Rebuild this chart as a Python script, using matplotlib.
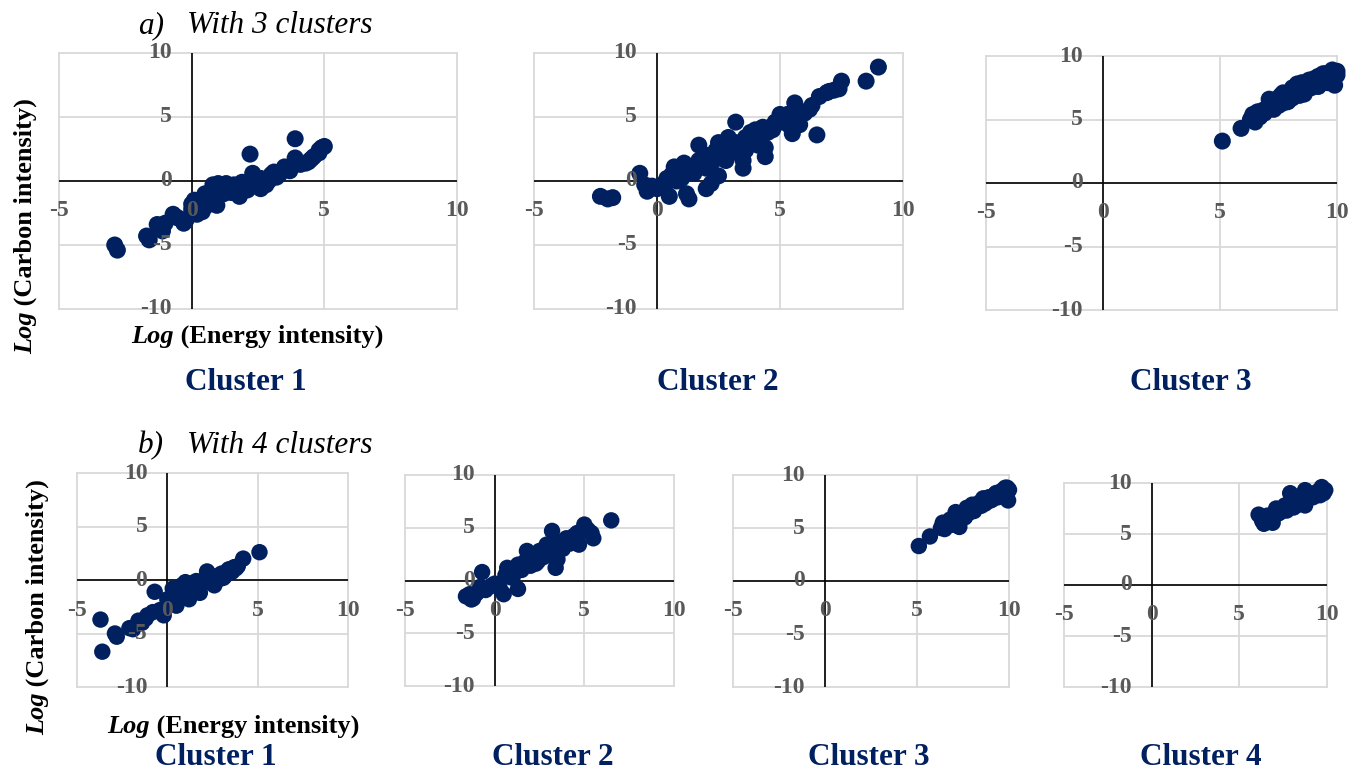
import matplotlib
matplotlib.use("Agg")
import matplotlib.pyplot as plt

W, H = 1362, 772
SERIF = "Liberation Serif"
NAVY = "#002060"
GRID = "#d9d9d9"
TICKC = "#595959"

# ---------------- data ----------------
# a) With 3 clusters
c3_1_x = [-2.9, -2.8, -1.7, -1.6, -1.3, -1.1, -1.2, -0.7, -0.5, -0.3, -0.2,
          0.0, 0.2, 0.4, 0.4, 0.5, 0.6, 0.8, 0.9, 1.0, 1.0, 0.95, 1.2, 1.4,
          1.6, 1.8, 1.8, 2.0, 2.2, 2.3, 2.6, 2.6, 2.8, 3.0, 3.2, 3.4, 3.6,
          3.8, 3.9, 4.0, 4.3, 4.5, 4.8, 4.9, 5.0, 3.9, 2.2, 1.3, 0.7,
          0.1, 0.3, 0.5, 0.7, 0.8, 1.1, 1.2, 1.5, 1.7, 1.9, 2.1, 2.4, 2.5,
          2.7, 2.9, 3.1, 3.3, 3.5, 3.7, 4.1, 4.4, 4.6, 4.8, -0.6, -1.0, 0.0, 0.2]
c3_1_y = [-5.0, -5.4, -4.3, -4.6, -3.4, -3.9, -3.6, -2.6, -2.9, -3.3, -3.0,
          -2.2, -1.8, -1.5, -2.4, -2.0, -1.2, -1.0, -0.4, -0.2, -0.9, -1.9, -0.7, -0.5,
          -0.3, -0.6, -1.2, -0.4, -0.2, 0.6, 0.2, -0.6, -0.3, 0.5, 0.3, 0.8, 1.0,
          1.2, 1.8, 1.5, 1.4, 1.7, 2.2, 2.6, 2.7, 3.3, 2.1, -0.2, -1.4,
          -1.5, -2.2, -1.0, -1.8, -0.3, -0.4, -1.0, -0.9, -0.6, -0.1, -0.7, 0.0, -0.4,
          0.1, 0.0, 0.7, 0.5, 1.1, 0.8, 1.3, 1.5, 1.9, 2.4, -2.8, -3.3, -1.8, -2.6]

c3_2_x = [-2.3, -2.0, -1.8, -0.7, -0.5, -0.4, -0.2, 0.0, 0.2, 0.5, 0.4, 0.6, 0.7,
          0.9, 1.0, 1.2, 1.3, 1.1, 1.4, 1.5, 1.7, 1.7, 1.9, 2.0, 2.2, 2.5, 2.1,
          2.3, 2.4, 2.5, 2.7, 2.8, 2.9, 3.0, 3.2, 3.2, 3.4, 3.5, 3.5, 3.6, 3.7,
          3.8, 4.0, 4.0, 4.2, 4.3, 4.4, 4.4, 4.6, 4.8, 5.0, 5.2, 5.4, 5.5, 5.6,
          5.5, 6.0, 6.3, 6.5, 6.6, 6.9, 7.2, 7.4, 7.5, 8.5, 9.0,
          1.0, 1.6, 2.0, 2.2, 2.6, 2.8, 3.0, 3.3, 3.6, 3.9, 4.1, 4.5, 4.7,
          5.1, 5.3, 5.8, 6.2, 7.0, 0.3, 0.8]
c3_2_y = [-1.2, -1.4, -1.3, 0.6, -0.3, -0.8, -0.4, -0.6, -0.3, -1.2, 0.2, 0.5, 1.1,
          0.3, 0.8, -1.0, -1.4, 1.4, 1.0, 0.6, 1.6, 2.8, 1.2, -0.6, -0.2, 0.4, 2.0,
          1.6, 2.4, 3.0, 1.9, 2.6, 3.4, 2.2, 4.6, 3.0, 2.6, 1.0, 1.6, 3.4, 2.8,
          3.8, 3.2, 4.0, 3.6, 4.2, 1.9, 2.6, 4.2, 4.6, 5.2, 4.8, 4.3, 3.7, 6.1,
          5.0, 5.3, 5.9, 3.6, 6.6, 6.9, 7.1, 7.2, 7.8, 7.8, 8.9,
          0.2, 1.2, 1.0, 1.4, 2.0, 1.6, 3.0, 2.2, 2.4, 3.6, 2.8, 3.8, 4.0,
          4.6, 5.2, 4.4, 5.6, 7.0, -0.5, 0.0]

c3_3_x = [5.1, 5.9, 6.3, 6.4, 6.6, 6.7, 6.9, 7.0, 7.1, 7.3, 7.5, 7.6, 7.8, 7.9,
          8.0, 8.1, 8.3, 8.4, 8.5, 8.7, 8.8, 8.9, 9.0, 9.2, 9.3, 9.4, 9.5, 9.6,
          9.7, 9.8, 9.9, 10.0, 9.9, 6.5, 7.7, 8.2, 9.1,
          6.5, 6.8, 7.2, 7.4, 7.7, 8.0, 8.1, 8.3, 8.6, 8.8, 9.0, 9.2, 9.4,
          9.6, 9.8, 10.0, 9.85]
c3_3_y = [3.3, 4.3, 5.0, 5.4, 5.6, 5.2, 5.5, 5.9, 6.6, 5.8, 6.1, 6.9, 6.8, 6.4,
          7.2, 6.7, 7.8, 6.9, 7.9, 7.7, 8.1, 7.5, 7.9, 8.4, 8.1, 8.3, 8.6, 8.4,
          8.6, 8.9, 8.3, 8.5, 7.7, 4.8, 7.1, 7.3, 8.0,
          5.2, 5.7, 6.0, 6.6, 6.3, 6.6, 7.5, 7.1, 7.0, 7.6, 8.2, 7.6, 8.6,
          7.9, 8.2, 8.8, 8.6]

# b) With 4 clusters
c4_1_x = [-3.7, -3.6, -2.9, -2.8, -2.1, -1.9, -1.6, -1.4, -1.1, -0.7, -0.4, -0.2,
          0.1, 0.2, 0.4, 0.5, 0.6, 0.8, 0.9, 1.0, 1.1, 1.3, 1.5, 1.6, 1.8, 2.0,
          2.2, 2.4, 2.6, 2.7, 2.9, 3.0, 3.2, 3.4, 3.6, 3.8, 4.2, 5.1, 0.3, 1.2,
          0.0, 0.4, 0.7, 1.0, 1.4, 1.7, 2.1, 2.5, 2.8, 3.1, 3.3, 3.5, 3.7, 3.9, -1.2, -0.8]
c4_1_y = [-3.7, -6.7, -5.0, -5.3, -4.5, -4.6, -3.8, -4.0, -3.3, -1.1, -2.8, -3.3,
          -2.2, -1.7, -1.4, -2.4, -0.9, -0.5, -1.6, -0.2, -1.0, -0.4, -0.8, -0.1, -1.2, -0.3,
          0.8, 0.0, -0.5, 0.3, 0.1, 0.6, 0.4, 1.0, 0.8, 1.1, 2.0, 2.6, -0.8, -1.8,
          -1.8, -2.0, -1.2, -1.2, -0.3, -0.6, 0.1, -0.2, 0.4, 0.2, 0.8, 0.7, 1.2, 1.3, -3.6, -3.0]

c4_2_x = [-1.6, -1.4, -1.2, -1.0, -0.7, -0.8, -0.5, -0.2, 0.0, 0.3, 0.5, 0.6, 0.7,
          0.9, 1.1, 1.3, 1.3, 1.5, 1.7, 1.8, 2.0, 2.2, 2.4, 2.5, 2.7, 2.9, 3.0,
          3.2, 3.2, 3.4, 3.5, 3.6, 3.8, 4.0, 4.2, 4.4, 4.6, 4.7, 5.0, 5.2, 5.5, 6.5,
          1.0, 1.6, 2.1, 2.3, 2.6, 2.8, 3.1, 3.3, 3.7, 3.9, 4.3, 4.8, 5.4, -1.3, 0.2]
c4_2_y = [-1.5, -1.3, -1.7, -1.2, 0.8, -0.6, -0.9, -0.5, -0.3, -0.8, -1.3, 0.5, 1.2,
          0.3, 0.8, -0.8, 1.5, 1.0, 1.8, 2.8, 1.4, 2.2, 1.8, 2.8, 2.2, 3.4, 2.6,
          4.7, 3.2, 1.2, 2.0, 3.6, 3.0, 4.0, 3.5, 4.2, 4.5, 3.4, 5.3, 4.8, 4.0, 5.7,
          0.3, 1.4, 1.9, 1.6, 2.5, 2.9, 2.4, 2.8, 3.2, 3.8, 3.9, 4.6, 4.5, -1.8, -0.4]

c4_3_x = [5.1, 5.7, 6.3, 6.4, 6.6, 6.8, 7.0, 7.1, 7.3, 7.3, 7.5, 7.7, 7.9, 8.0,
          8.2, 8.4, 8.6, 8.7, 8.9, 9.0, 9.2, 9.3, 9.5, 9.6, 9.7, 9.8, 9.9, 10.0, 9.95,
          6.5, 6.9, 7.2, 7.6, 7.8, 8.1, 8.3, 8.5, 8.8, 9.1, 9.4, 9.7, 9.9]
c4_3_y = [3.3, 4.2, 5.0, 5.5, 5.4, 5.8, 5.6, 6.5, 6.0, 5.1, 6.4, 6.9, 6.6, 7.2,
          7.0, 7.4, 7.8, 7.3, 7.9, 7.6, 8.1, 8.3, 8.0, 8.5, 8.6, 8.8, 8.4, 8.6, 7.6,
          4.9, 5.3, 6.2, 6.0, 6.4, 6.6, 7.0, 7.1, 7.5, 7.7, 7.9, 8.1, 8.8]

c4_4_x = [6.1, 6.3, 6.4, 6.6, 6.9, 7.0, 7.1, 7.3, 7.5, 7.6, 7.8, 7.9, 8.0, 8.2,
          8.3, 8.5, 8.6, 8.75, 8.75, 8.9, 9.1, 9.3, 9.5, 9.7, 9.8, 9.6,
          6.7, 7.2, 7.7, 8.1, 8.4, 8.8, 9.2, 9.4, 9.9]
c4_4_y = [6.9, 6.3, 6.0, 6.8, 6.1, 6.8, 7.5, 7.1, 7.4, 7.8, 7.6, 9.0, 8.0, 7.9,
          8.4, 8.2, 8.8, 9.3, 7.8, 8.6, 8.7, 9.0, 9.2, 9.6, 9.0, 8.8,
          6.5, 7.0, 7.3, 7.6, 7.9, 8.3, 8.6, 8.9, 9.3]

x_ticks = [-5, 0, 5, 10]
y_ticks = [-10, -5, 0, 5, 10]

section_titles = [("a)", "With 3 clusters"), ("b)", "With 4 clusters")]
cluster_names = ["Cluster 1", "Cluster 2", "Cluster 3", "Cluster 4"]

# ---------------- figure ----------------
fig = plt.figure(figsize=(W / 100, H / 100), dpi=100)


def add_ax(l, r, t, b):
    return fig.add_axes([l / W, 1 - b / H, (r - l) / W, (b - t) / H])


def style_panel(ax, xs, ys, msize):
    ax.set_xlim(-5, 10)
    ax.set_ylim(-10, 10)
    for s in ax.spines.values():
        s.set_visible(False)
    ax.set_xticks([])
    ax.set_yticks([])
    for v in x_ticks:
        ax.axvline(v, color=GRID, lw=1.3, zorder=0, clip_on=False)
    for v in y_ticks:
        ax.axhline(v, color=GRID, lw=1.3, zorder=0, clip_on=False)
    ax.axhline(0, color="black", lw=1.2, zorder=1)
    ax.axvline(0, color="black", lw=1.2, zorder=1)
    ax.scatter(xs, ys, s=msize, color=NAVY, edgecolors="none", zorder=3, clip_on=False)
    for v in x_ticks:
        ax.annotate(str(v), xy=(v, 0), xytext=(0, -30 * 0.72), textcoords="offset points",
                    ha="center", va="center", fontsize=17, fontweight="bold",
                    family=SERIF, color=TICKC, zorder=5, annotation_clip=False)
    for v in y_ticks:
        ax.annotate(str(v), xy=(0, v), xytext=(-20 * 0.72, 0), textcoords="offset points",
                    ha="right", va="center", fontsize=17, fontweight="bold",
                    family=SERIF, color=TICKC, zorder=5, annotation_clip=False)


panels = [
    ((59, 457, 53, 309), c3_1_x, c3_1_y, 150),
    ((534, 903, 53, 309), c3_2_x, c3_2_y, 150),
    ((986, 1337, 56, 310), c3_3_x, c3_3_y, 150),
    ((77, 348, 473, 687), c4_1_x, c4_1_y, 140),
    ((405, 674, 475, 686), c4_2_x, c4_2_y, 140),
    ((733, 1009, 475, 687), c4_3_x, c4_3_y, 140),
    ((1064, 1327, 483, 687), c4_4_x, c4_4_y, 140),
]
for box, xs, ys, ms in panels:
    ax = add_ax(*box)
    style_panel(ax, xs, ys, ms)


def ftext(x, y, s, **kw):
    return fig.text(x / W, 1 - y / H, s, family=SERIF, **kw)


# section titles
for (lab, txt), yb in zip(section_titles, [33, 453]):
    ftext(138, yb, lab, fontsize=22.5, style="italic", va="baseline", ha="left")
    ftext(187, yb, txt, fontsize=22.5, style="italic", va="baseline", ha="left")

# cluster names
for name, xc in zip(cluster_names[:3], [246, 718, 1191]):
    ftext(xc, 390, name, fontsize=22.5, fontweight="bold", color=NAVY, ha="center", va="baseline")
for name, xc in zip(cluster_names, [216, 553, 869, 1201]):
    ftext(xc, 765, name, fontsize=22.5, fontweight="bold", color=NAVY, ha="center", va="baseline")

# mixed-style axis labels
renderer = fig.canvas.get_renderer()


def mixed(x, y, parts, size, rotation=0):
    widths = []
    for s, st in parts:
        t = fig.text(0, 0, s, fontsize=size, family=SERIF, fontweight="bold", style=st)
        widths.append(t.get_window_extent(renderer).width)
        t.remove()
    total = sum(widths)
    if rotation == 0:
        cur = x - total / 2
        for (s, st), w in zip(parts, widths):
            fig.text(cur / W, 1 - y / H, s, fontsize=size, family=SERIF, fontweight="bold",
                     style=st, ha="left", va="baseline")
            cur += w
    else:
        cur = (H - y) - total / 2
        for (s, st), w in zip(parts, widths):
            fig.text(x / W, cur / H, s, fontsize=size, family=SERIF, fontweight="bold",
                     style=st, ha="left", va="baseline", rotation=90, rotation_mode="anchor")
            cur += w


xlab = [("Log", "italic"), (" (Energy intensity)", "normal")]
ylab = [("Log", "italic"), (" (Carbon intensity)", "normal")]
mixed(257, 343, xlab, 19)
mixed(233, 733, xlab, 19)
mixed(32, 226, ylab, 19, rotation=90)
mixed(44, 607, ylab, 19, rotation=90)

fig.savefig("out.png", dpi=100)
